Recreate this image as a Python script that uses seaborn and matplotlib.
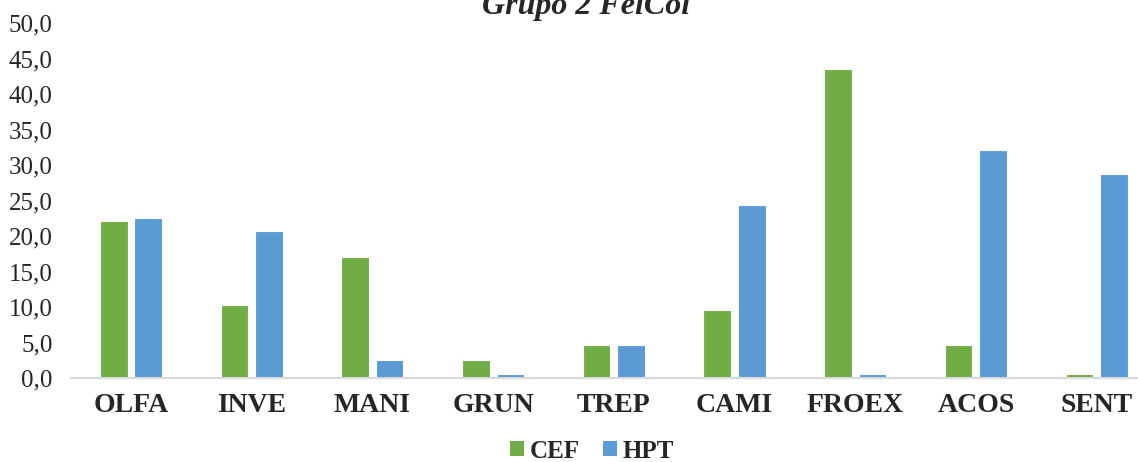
import matplotlib
matplotlib.use("Agg")
import matplotlib.pyplot as plt
from matplotlib.patches import Patch
import pandas as pd
import seaborn as sns

categories = ["OLFA", "INVE", "MANI", "GRUN", "TREP", "CAMI", "FROEX", "ACOS", "SENT"]
cef = [22.1, 10.3, 17.0, 2.5, 4.6, 9.6, 43.5, 4.7, 0.5]
hpt = [22.5, 20.7, 2.5, 0.5, 4.6, 24.4, 0.5, 32.1, 28.7]
series = ["CEF", "HPT"]
colors = ["#70AD47", "#5B9BD5"]
yticks = [0, 5, 10, 15, 20, 25, 30, 35, 40, 45, 50]
title = "Grupo 2 FelCol"

df = pd.DataFrame({
    "cat": categories * 2,
    "serie": [series[0]] * len(categories) + [series[1]] * len(categories),
    "valor": cef + hpt,
})

sns.set_theme(style="white")
plt.rcParams["font.family"] = ["Liberation Serif", "DejaVu Serif"]

fig = plt.figure(figsize=(11.38, 4.62), dpi=100)
ax = fig.add_axes([0.0621, 0.1818, 0.9546, 0.7684])

sns.barplot(data=df, x="cat", y="valor", hue="serie", order=categories,
            hue_order=series, palette=colors, width=0.572, gap=0.2,
            edgecolor="white", linewidth=0.8, legend=False, ax=ax,
            saturation=1)

ax.set_xlim(-0.5, len(categories) - 0.5)
ax.set_ylim(0, 50)
ax.set_yticks(yticks)
ax.set_yticklabels([f"{v:.1f}".replace(".", ",") for v in yticks], fontsize=18)
ax.set_xlabel("")
ax.set_ylabel("")
for lbl in ax.get_xticklabels():
    lbl.set_fontweight("bold")
    lbl.set_fontsize(20)
ax.tick_params(axis="x", length=0, pad=11)
ax.tick_params(axis="y", length=0, pad=13)
for s in ["top", "right", "left"]:
    ax.spines[s].set_visible(False)
ax.spines["bottom"].set_color("#D9D9D9")
ax.spines["bottom"].set_linewidth(1.5)
ax.grid(False)

fig.text(586 / 1138, 1 - 14 / 462, title, ha="center", va="baseline",
         fontsize=23, fontweight="bold", fontstyle="italic")

handles = [Patch(facecolor=c, edgecolor="none", label=s) for s, c in zip(series, colors)]
leg = fig.legend(handles=handles, loc="center", bbox_to_anchor=(592 / 1138, 11 / 462),
                 ncol=2, frameon=False, handlelength=0.56, handleheight=0.56,
                 handletextpad=0.25, columnspacing=0.9, borderaxespad=0, borderpad=0,
                 prop={"weight": "bold", "size": 18})

fig.savefig("out.png", dpi=100)
